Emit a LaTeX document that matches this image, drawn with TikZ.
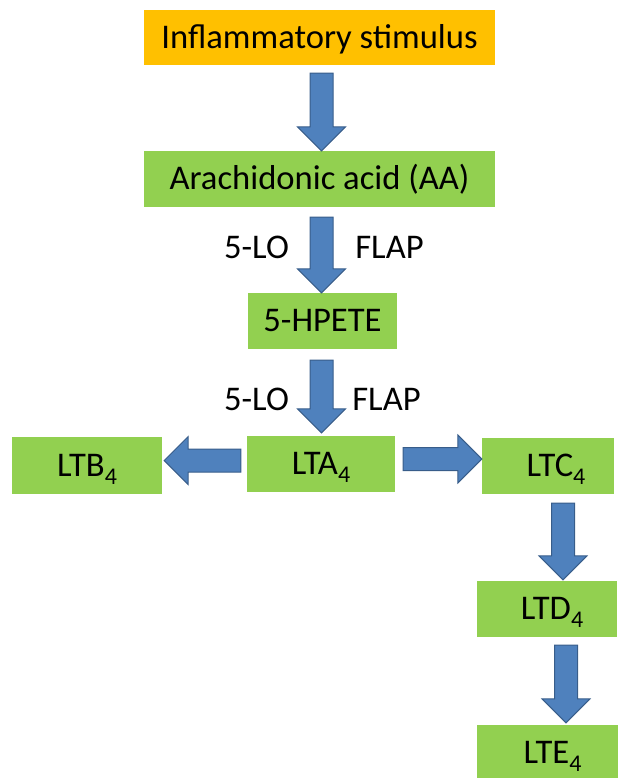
\documentclass[tikz,border=0pt]{standalone}
\usepackage{fontspec}
\setmainfont{Carlito}
\usetikzlibrary{calc}
\definecolor{stimorange}{HTML}{FFC000}
\definecolor{boxgreen}{HTML}{92D050}
\definecolor{arrowblue}{HTML}{4F81BD}
\definecolor{arrowedge}{HTML}{385D8A}

% subscript 4 as set in the slide
\newcommand{\lsub}[1]{\raisebox{-0.22em}{\fontsize{24}{24}\selectfont #1}}

% block arrow from tail #1 to tip #2
\newcommand{\bigarrow}[2]{%
  \coordinate (bt) at #1;
  \coordinate (bp) at #2;
  \coordinate (bh) at ($(bp)!24pt!(bt)$);
  \draw[blockarrow] ($(bt)!11.5pt!90:(bp)$) -- ($(bh)!11.5pt!90:(bp)$)
    -- ($(bh)!24pt!90:(bp)$) -- (bp) -- ($(bh)!24pt!-90:(bp)$)
    -- ($(bh)!11.5pt!-90:(bp)$) -- ($(bt)!11.5pt!-90:(bp)$) -- cycle;}

\begin{document}
\begin{tikzpicture}[x=1pt, y=-1pt, font=\fontsize{34.6}{40}\selectfont,
    box/.style={fill=boxgreen, inner sep=0pt, text height=21.8pt, text depth=0pt},
    enzyme/.style={inner sep=0pt, text height=21.8pt, text depth=0pt},
    blockarrow/.style={fill=arrowblue, draw=arrowedge, line width=1pt, line join=miter}]

    \useasboundingbox (0,0) rectangle (618,778);

    % Boxes of the pathway
    \node[box, fill=stimorange, minimum width=351pt, minimum height=55pt] (stim) at (319.5, 37.5) {Inflammatory stimulus\hspace{6pt}};
    \node[box, minimum width=351pt, minimum height=56pt] (aa) at (319.5, 179) {Arachidonic acid (AA)\hspace{16pt}};
    \node[box, minimum width=149pt, minimum height=56pt] (hpete) at (322.5, 321) {5-HPETE};
    \node[box, minimum width=148pt, minimum height=56pt] (lta) at (321, 464) {LTA\lsub{4}};
    \node[box, minimum width=150pt, minimum height=57pt] (ltb) at (87, 465.5) {LTB\lsub{4}};
    \node[box, minimum width=132pt, minimum height=56pt] (ltc) at (548, 466) {\hspace{16pt}LTC\lsub{4}};
    \node[box, minimum width=140pt, minimum height=56pt] (ltd) at (547, 609) {\hspace{10pt}LTD\lsub{4}};
    \node[box, minimum width=141pt, minimum height=56pt] (lte) at (547.5, 753) {\hspace{10pt}LTE\lsub{4}};

    % Enzymes beside the arrows
    \node[enzyme] (lo1) at (256.5, 247.5) {5-LO};
    \node[enzyme] (flap1) at (389.5, 247.5) {FLAP};
    \node[enzyme] (lo2) at (256.5, 400) {5-LO};
    \node[enzyme] (flap2) at (386.5, 400) {FLAP};

    % Arrows
    \bigarrow{([xshift=2pt, yshift=-8pt]stim.south)}{([xshift=2pt]aa.north)}
    \bigarrow{([xshift=2pt, yshift=-10pt]aa.south)}{([xshift=-1pt]hpete.north)}
    \bigarrow{([xshift=-1pt, yshift=-11pt]hpete.south)}{([xshift=0.5pt, yshift=3pt]lta.north)}
    \bigarrow{([xshift=-6pt, yshift=3.5pt]lta.west)}{([xshift=2pt, yshift=5pt]ltb.east)}
    \bigarrow{([xshift=8pt, yshift=5pt]lta.east)}{([yshift=7pt]ltc.west)}
    \bigarrow{([xshift=15pt, yshift=-9pt]ltc.south)}{([xshift=16pt, yshift=1pt]ltd.north)}
    \bigarrow{([xshift=19pt, yshift=-8pt]ltd.south)}{([xshift=18.5pt, yshift=2pt]lte.north)}

\end{tikzpicture}
\end{document}
